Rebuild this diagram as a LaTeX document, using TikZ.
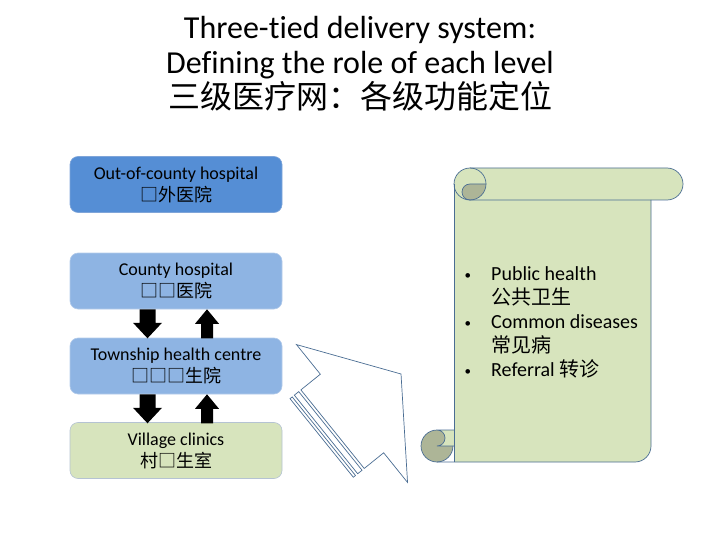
\documentclass[tikz,border=0pt]{standalone}
\usepackage{fontspec}
\setmainfont[Ligatures=NoCommon]{Carlito}
\newfontfamily\cjk{Noto Sans CJK SC}
\usetikzlibrary{calc}
\definecolor{oocfill}{HTML}{558ED5}
\definecolor{oocdraw}{HTML}{7FA5D9}
\definecolor{bluefill}{HTML}{8EB4E3}
\definecolor{bluedraw}{HTML}{B3CBEA}
\definecolor{greenfill}{HTML}{D7E4BD}
\definecolor{greendraw}{HTML}{B5C3D3}
\definecolor{curl}{HTML}{ADB597}
\definecolor{edge}{HTML}{4A6D93}
\newcommand{\smbul}{\makebox[28.5pt][l]{\hspace{2pt}\raisebox{1.5pt}{\fontsize{13}{13}\selectfont\textbullet}}}
\begin{document}
\begin{tikzpicture}[x=1pt,y=-1pt,
  levelbox/.style={draw, line width=0.6pt, rounded corners=8pt, minimum width=212pt,
    minimum height=56pt, inner sep=0pt, align=center, text=black,
    font=\fontsize{18}{22}\selectfont},
  titletxt/.style={anchor=base, inner sep=0pt, font=\fontsize{32}{35}\selectfont},
  stxt/.style={anchor=base west, inner sep=0pt, font=\fontsize{20}{24}\selectfont},
  outl/.style={draw=edge, line width=0.7pt},
  downblk/.pic={\fill[black] (-8,0) -- (8,0) -- (8,13.5) -- (14.5,13.5) -- (0,29) -- (-14.5,13.5) -- (-8,13.5) -- cycle;},
  upblk/.pic={\fill[black] (0,0) -- (12,14.5) -- (6,14.5) -- (6,29) -- (-6,29) -- (-6,14.5) -- (-12,14.5) -- cycle;}
]
\useasboundingbox (0,0) rectangle (720,540);

% title
\node[titletxt] (t1) at (360,39) {Three-tied delivery system:};
\node[titletxt] (t2) at (360,74) {Defining the role of each level};
\node[titletxt] (t3) at (360,109) {\cjk 三级医疗网：各级功能定位};

% level boxes
\node[levelbox, fill=oocfill, draw=oocdraw] (ooc) at (176,184.5) {Out-of-county hospital\\{\cjk □外医院}};
\node[levelbox, fill=bluefill, draw=bluedraw] (county) at (176,281) {County hospital\\{\cjk □□医院}};
\node[levelbox, fill=bluefill, draw=bluedraw] (town) at (176,366) {Township health centre\\{\cjk □□□生院}};
\node[levelbox, fill=greenfill, draw=greendraw] (village) at (176,450.5) {Village clinics\\{\cjk 村□生室}};

% block arrows between levels
\pic at ($(county.south)+(-28.5,0)$) {downblk};
\pic at ($(county.south)+(31,0)$) {upblk};
\pic at ($(town.south)+(-28.5,0)$) {downblk};
\pic at ($(town.south)+(31,0)$) {upblk};

% striped hollow arrow
\filldraw[fill=white, outl] (296.45,344.57) -- (401.01,374.0) -- (407.55,482.43) -- (383.66,452.79)
  -- (364.21,468.47) -- (300.89,389.89) -- (320.34,374.21) -- cycle;
\filldraw[fill=white, outl] (298.71,391.64) -- (362.03,470.22) -- (357.67,473.73) -- (294.35,395.15) -- cycle;
\filldraw[fill=white, outl] (292.18,396.91) -- (355.50,475.49) -- (353.32,477.24) -- (290.00,398.66) -- cycle;

% scroll: fills
\fill[greenfill] (454,184) -- (454,462) -- (635,462) arc[start angle=90,end angle=0,radius=16] -- (651,200) -- cycle;
\fill[greenfill, rounded corners=16pt] (454,168) rectangle (683,200);
\fill[greenfill] (437,430) rectangle (454,446);
\fill[curl] (470,184) -- (486,184) arc[start angle=0,end angle=90,radius=16]
  arc[start angle=90,end angle=270,radius=8] -- cycle;
\fill[curl] (437,430) arc[start angle=270,end angle=0,radius=16] -- (437,446)
  arc[start angle=90,end angle=-90,radius=8] -- cycle;
% scroll: outlines
\draw[outl] (470,184) circle[radius=16];
\draw[outl] (470,168) -- (667,168) arc[start angle=-90,end angle=90,radius=16] -- (470,200);
\draw[outl] (470,200) arc[start angle=90,end angle=270,radius=8] -- (486,184);
\draw[outl] (454,184) -- (454,462);
\draw[outl] (437,462) -- (635,462) arc[start angle=90,end angle=0,radius=16] -- (651,200);
\draw[outl] (437,430) arc[start angle=270,end angle=0,radius=16];
\draw[outl] (454,446) -- (437,446) arc[start angle=90,end angle=-90,radius=8] -- (454,430);

% scroll text
\node[stxt] (s1) at (462.5,280.7) {\smbul Public health};
\node[stxt] (s2) at (491,304.7) {\cjk 公共卫生};
\node[stxt] (s3) at (462.5,328.7) {\smbul Common diseases};
\node[stxt] (s4) at (491,352.7) {\cjk 常见病};
\node[stxt] (s5) at (462.5,376.7) {\smbul Referral {\cjk 转诊}};
\end{tikzpicture}
\end{document}
